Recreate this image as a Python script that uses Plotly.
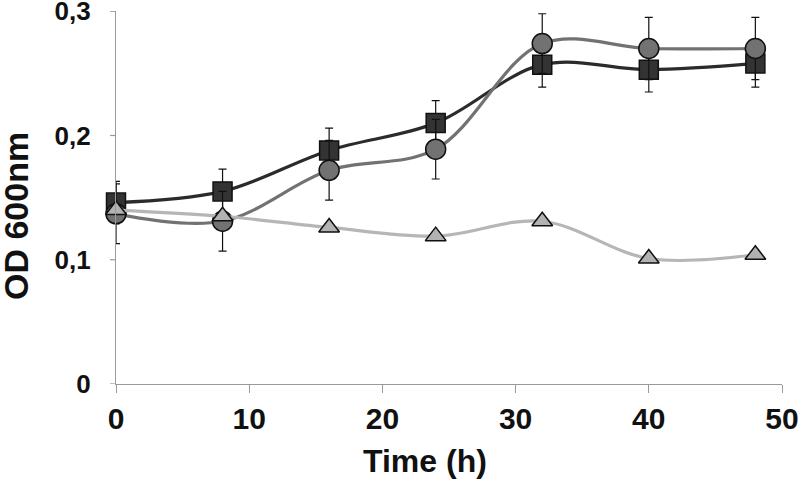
import plotly.graph_objects as go

# Data
time_h = [0, 8, 16, 24, 32, 40, 48]
sq_od = [0.146, 0.155, 0.188, 0.210, 0.257, 0.253, 0.258]
sq_err = [0.017, 0.018, 0.018, 0.018, 0.018, 0.018, 0.019]
ci_od = [0.137, 0.131, 0.172, 0.189, 0.274, 0.270, 0.270]
ci_err = [0.024, 0.024, 0.024, 0.024, 0.024, 0.025, 0.025]
tr_od = [0.140, 0.135, 0.126, 0.119, 0.131, 0.101, 0.104]
tr_err = [0.003, 0.003, 0.003, 0.003, 0.003, 0.003, 0.003]

y_tickvals = [0, 0.1, 0.2, 0.3]
y_ticktext = ["0", "0,1", "0,2", "0,3"]
x_tickvals = [0, 10, 20, 30, 40, 50]

FONT = "Liberation Sans, Arial, sans-serif"
AXIS_GRAY = "#9a9a9a"

fig = go.Figure()

def add_series(y, err, symbol, fill, line_col, size):
    fig.add_trace(go.Scatter(
        x=time_h, y=y, mode="lines+markers",
        line=dict(color=line_col, width=3.2, shape="spline", smoothing=1.0),
        marker=dict(symbol=symbol, size=size, color=fill,
                    line=dict(color="#111111", width=1.5)),
        error_y=dict(type="data", array=err, visible=True,
                     color="#111111", thickness=1.2, width=4),
        cliponaxis=False, showlegend=False,
    ))

add_series(sq_od, sq_err, "square", "#333333", "#2b2b2b", 19)
add_series(ci_od, ci_err, "circle", "#727272", "#727272", 20)
add_series(tr_od, tr_err, "triangle-up", "#b2b2b2", "#b6b6b6", 18)

# visible short y ticks (major ticks are transparent, used only to space labels)
for v in y_tickvals:
    fig.add_shape(type="line", xref="paper", xsizemode="pixel", xanchor=0,
                  x0=-6, x1=0, yref="y", y0=v, y1=v,
                  line=dict(color=AXIS_GRAY, width=1.2), layer="below")

fig.update_layout(
    width=800, height=484,
    margin=dict(l=116, r=18, t=11, b=100, autoexpand=False),
    paper_bgcolor="white", plot_bgcolor="white",
    font=dict(family=FONT, color="#111111"),
    xaxis=dict(range=[0, 50], tickvals=x_tickvals, automargin=False,
               showgrid=False, zeroline=False,
               showline=True, linecolor=AXIS_GRAY, linewidth=1.3,
               ticks="outside", ticklen=8, tickcolor=AXIS_GRAY, tickwidth=1.2,
               tickfont=dict(family=FONT, size=30, color="#111111", weight="bold"),
               ticklabeloverflow="allow"),
    yaxis=dict(range=[0, 0.3002], tickvals=y_tickvals, ticktext=y_ticktext,
               automargin=False,
               showgrid=False, zeroline=False,
               showline=True, linecolor=AXIS_GRAY, linewidth=1.3,
               ticks="outside", ticklen=19, tickcolor="rgba(0,0,0,0)", tickwidth=1,
               tickfont=dict(family=FONT, size=26, color="#111111", weight="bold"),
               ticklabeloverflow="allow"),
    annotations=[
        dict(text="<b>Time (h)</b>", xref="paper", yref="paper",
             x=(425 - 116) / 666, y=-(461 - 384) / 373,
             xanchor="center", yanchor="middle", showarrow=False,
             font=dict(family=FONT, size=32, color="#111111")),
        dict(text="<b>OD 600nm</b>", xref="paper", yref="paper",
             x=-(116 - 16) / 666, y=(384 - 216) / 373,
             xanchor="center", yanchor="middle", showarrow=False,
             textangle=-90,
             font=dict(family=FONT, size=34, color="#111111")),
    ],
)

fig.write_html("out.html", config={"displayModeBar": False},
               post_script="document.body.style.margin='0px';")
